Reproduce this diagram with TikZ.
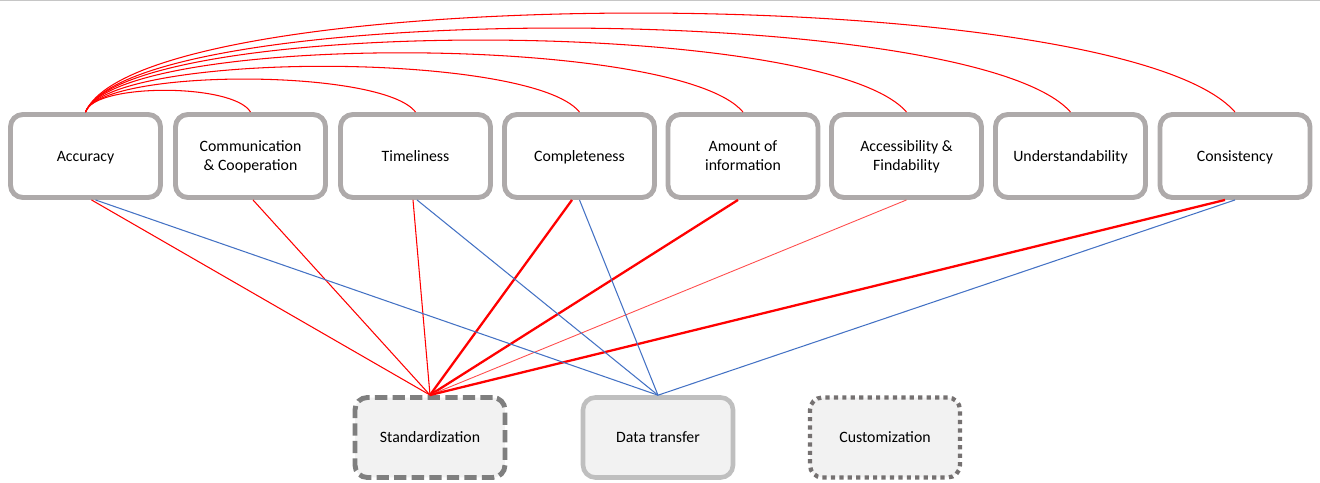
\documentclass[tikz,border=0pt]{standalone}
\usepackage{fontspec}
\setmainfont{Carlito}

\definecolor{boxgray}{HTML}{AEAAAA}
\definecolor{stdgray}{HTML}{7F7F7F}
\definecolor{datagray}{HTML}{BFBFBF}
\definecolor{custgray}{HTML}{757171}
\definecolor{lightfill}{HTML}{F2F2F2}
\definecolor{linkred}{HTML}{FF0000}
\definecolor{linkblue}{HTML}{4472C4}

\tikzset{
  attrbox/.style={draw=boxgray,line width=2.8pt,fill=white,rounded corners=7pt,
    minimum width=3cm,minimum height=1.66cm,align=center,text depth=0pt,
    font=\fontsize{9}{10.8}\selectfont},
  groupbox/.style={fill=lightfill,rounded corners=7pt,
    minimum width=3cm,minimum height=1.6cm,align=center,text depth=0pt,
    font=\fontsize{9}{10.8}\selectfont},
  redline/.style={linkred,line width=0.6pt},
  boldred/.style={linkred,line width=1.3pt},
  bluline/.style={linkblue,line width=0.6pt}
}

\begin{document}
\begin{tikzpicture}[x=0.02cm,y=0.02cm]
\useasboundingbox (0,0) rectangle (1320,483);

% frame line at the top
\draw[gray!45,line width=0.8pt] (0,482.5) -- (1320,482.5);

% the quality attributes
\node[attrbox] (acc) at (85.5,327) {Accuracy};
\node[attrbox] (comm) at (250.5,327) {Communication\\\& Cooperation};
\node[attrbox] (time) at (415.5,327) {Timeliness};
\node[attrbox] (compl) at (579.5,327) {Completeness};
\node[attrbox] (amount) at (743,327) {Amount of\\information};
\node[attrbox] (access) at (906.5,327) {Accessibility \&\\Findability};
\node[attrbox] (under) at (1070.5,327) {Understandability};
\node[attrbox] (consist) at (1235,327) {Consistency};

% the three groups
\node[groupbox,draw=stdgray,line width=2.8pt,dash pattern=on 7pt off 3pt] (std) at (430,45.5) {Standardization};
\node[groupbox,draw=datagray,line width=2.6pt] (data) at (658,45.5) {Data transfer};
\node[groupbox,draw=custgray,line width=2.4pt,dash pattern=on 2.4pt off 2.4pt] (cust) at (885,45.5) {Customization};

% arcs from accuracy to the others
\foreach \t/\h/\a/\b in {comm/29/8/17,time/44/16/33,compl/61/25/49,amount/79/33/66,
    access/96/41/82,under/112/49/99,consist/132/57/115}
  \draw[redline] (acc.north) .. controls +(\a,\h) and +(-\b,\h) .. (\t.north);

% links to standardization
\draw[redline] ([xshift=0.12cm]acc.south) -- (std.north);
\draw[redline] ([xshift=0.05cm]comm.south) -- (std.north);
\draw[redline] ([xshift=-0.05cm]time.south) -- (std.north);
\draw[boldred] ([xshift=-0.15cm]compl.south) -- (std.north);
\draw[boldred] ([xshift=-0.1cm]amount.south) -- (std.north);
\draw[linkred!70,line width=0.5pt] (access.south) -- (std.north);
\draw[boldred] ([xshift=-0.2cm]consist.south) -- (std.north);

% links to data transfer
\draw[bluline] ([xshift=0.2cm]acc.south) -- (data.north);
\draw[bluline] ([xshift=0.03cm]time.south) -- (data.north);
\draw[bluline] (compl.south) -- (data.north);
\draw[bluline] (consist.south) -- (data.north);

\end{tikzpicture}
\end{document}
